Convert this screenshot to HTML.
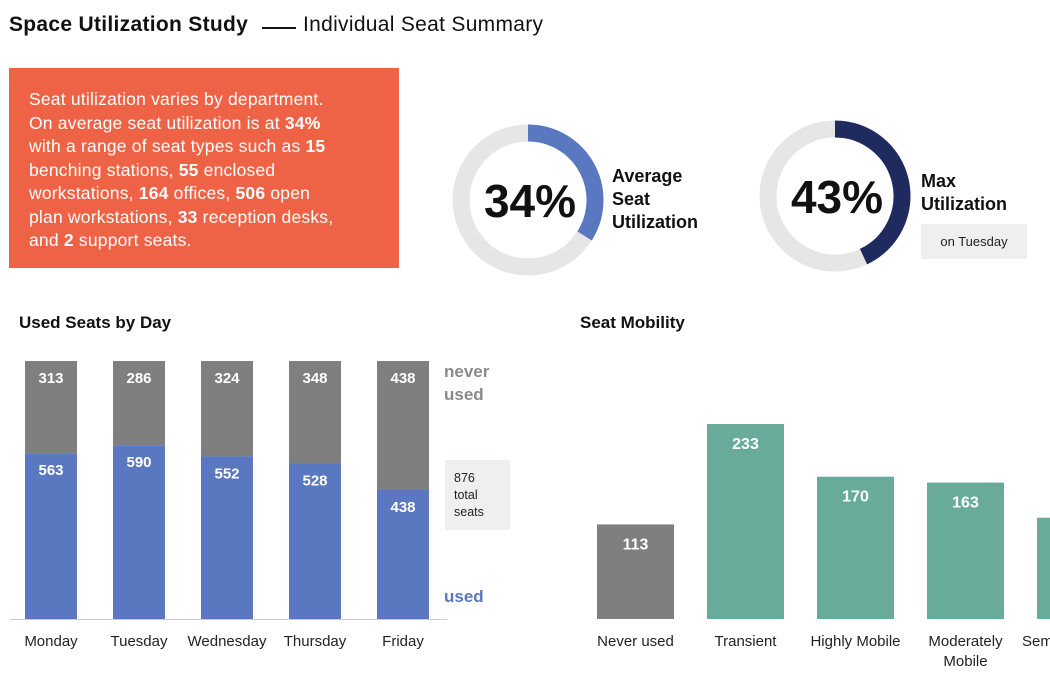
<!DOCTYPE html>
<html><head><meta charset="utf-8"><style>
body{margin:0;width:1050px;height:675px;background:#fff;font-family:"Liberation Sans",sans-serif;overflow:hidden;position:relative}
.abs{position:absolute}
</style></head><body>
<div class="abs" style="left:9px;top:13px;font-size:21px;color:#111;white-space:nowrap;font-weight:bold;letter-spacing:0.3px">Space Utilization Study</div>
<div class="abs" style="left:262px;top:27px;width:34px;height:2px;background:#111"></div>
<div class="abs" style="left:303px;top:13px;font-size:21px;color:#111;white-space:nowrap;letter-spacing:0.3px">Individual Seat Summary</div>
<div class="abs" style="left:9px;top:68px;width:370px;height:200px;padding-left:20px;background:#ee6346;color:#fff;font-size:17.5px;line-height:23.5px;white-space:nowrap;letter-spacing:0.2px">
<div style="padding-top:20px">Seat utilization varies by department.<br>On average seat utilization is at <b>34%</b><br>with a range of seat types such as <b>15</b><br>benching stations, <b>55</b> enclosed<br>workstations, <b>164</b> offices, <b>506</b> open<br>plan workstations, <b>33</b> reception desks,<br>and <b>2</b> support seats.</div></div>
<svg class="abs" style="left:0;top:0" width="1050" height="675">
<g id="donuts"></g>
<text x="612" y="182" font-size="18" font-weight="bold" fill="#111">Average</text>
<text x="612" y="205" font-size="18" font-weight="bold" fill="#111">Seat</text>
<text x="612" y="228" font-size="18" font-weight="bold" fill="#111">Utilization</text>
<text x="921" y="187" font-size="18" font-weight="bold" fill="#111">Max</text>
<text x="921" y="210" font-size="18" font-weight="bold" fill="#111">Utilization</text>
<rect x="921" y="224" width="106" height="35" fill="#eeeff1"/>
<text x="974" y="246" font-size="13" fill="#222" text-anchor="middle">on Tuesday</text>
<text x="19" y="328" font-size="17" font-weight="bold" fill="#111">Used Seats by Day</text>
<text x="580" y="328" font-size="17" font-weight="bold" fill="#111">Seat Mobility</text>
<line x1="10" y1="619.5" x2="447" y2="619.5" stroke="#ccc"/>
<g id="stack"></g><g id="mob"></g>
<text x="444" y="377" font-size="17" font-weight="bold" fill="#8a8a8a">never</text>
<text x="444" y="400" font-size="17" font-weight="bold" fill="#8a8a8a">used</text>
<text x="444" y="602" font-size="17" font-weight="bold" fill="#5a78c0">used</text>
<rect x="445" y="460" width="65" height="70" fill="#eeeff1"/>
<text x="454" y="482" font-size="12.5" fill="#222">876</text>
<text x="454" y="499" font-size="12.5" fill="#222">total</text>
<text x="454" y="516" font-size="12.5" fill="#222">seats</text>
</svg>
<script>
const NS="http://www.w3.org/2000/svg";
function mk(p,t,a,txt){const e=document.createElementNS(NS,t);for(const k in a)e.setAttribute(k,a[k]);if(txt!=null)e.textContent=txt;p.appendChild(e);return e;}
const donutValues=[34,43];
const donutColors=["#5a78c0","#1f2a5e"];
const days=["Monday","Tuesday","Wednesday","Thursday","Friday"];
const usedSeats=[563,590,552,528,438];
const neverUsed=[313,286,324,348,438];
const mobCats=["Never used","Transient","Highly Mobile","Moderately Mobile","Semi-Mobile"];
const mobValues=[113,233,170,163,121];
const dg=document.getElementById('donuts');
const centers=[[528,200],[835,196]];
donutValues.forEach((v,i)=>{
 const [cx,cy]=centers[i],r=67;
 const ring=mk(dg,'circle',{cx,cy,r,fill:'none',stroke:'#e6e6e6','stroke-width':17});
 
 
 const a=v/100*2*Math.PI;
 const x=cx+r*Math.sin(a),y=cy-r*Math.cos(a);
 const arc=mk(dg,'path',{d:`M${cx},${cy-r} A${r},${r} 0 ${v>50?1:0} 1 ${x},${y}`,fill:'none',stroke:donutColors[i],'stroke-width':17});
 
 
 const t=mk(dg,'text',{x:cx+2,y:cy+17,'font-size':46,'font-weight':'bold','text-anchor':'middle',fill:'#111'},v+'%');
 
 
});
const sg=document.getElementById('stack');
const base=619,ys=258/876;
days.forEach((d,i)=>{
 const x=25+i*88,w=52;
 const hu=usedSeats[i]*ys,hn=neverUsed[i]*ys;
 const r1=mk(sg,'rect',{x,y:base-hu-hn,width:w,height:hn,fill:'#7f7f7f'});
 
 
 const r2=mk(sg,'rect',{x,y:base-hu,width:w,height:hu,fill:'#5a78c0'});
 
 
 mk(sg,'text',{x:x+w/2,y:base-hu-hn+22,'font-size':15,'font-weight':'bold',fill:'#fff','text-anchor':'middle'},neverUsed[i]);
 mk(sg,'text',{x:x+w/2,y:base-hu+22,'font-size':15,'font-weight':'bold',fill:'#fff','text-anchor':'middle'},usedSeats[i]);
 const l=mk(sg,'text',{x:x+w/2,y:646,'font-size':15,fill:'#222','text-anchor':'middle'},d);
 
 
});
const mg=document.getElementById('mob');
const ms=195/233;
mobCats.forEach((c,i)=>{
 const x=597+i*110,w=77,h=mobValues[i]*ms;
 const r=mk(mg,'rect',{x,y:base-h,width:w,height:h,fill:i==0?'#7f7f7f':'#69ab9a'});
 
 
 if(i<4)mk(mg,'text',{x:x+w/2,y:base-h+25,'font-size':16,'font-weight':'bold',fill:'#fff','text-anchor':'middle'},mobValues[i]);
 const words=c=="Moderately Mobile"?["Moderately","Mobile"]:[c];
 words.forEach((wd,j)=>{
  const l=mk(mg,'text',{x:i==4?1022:x+w/2,y:646+j*20,'font-size':15,fill:'#222','text-anchor':i==4?'start':'middle'},wd);
  
  
 });
});
</script>
</body></html>
